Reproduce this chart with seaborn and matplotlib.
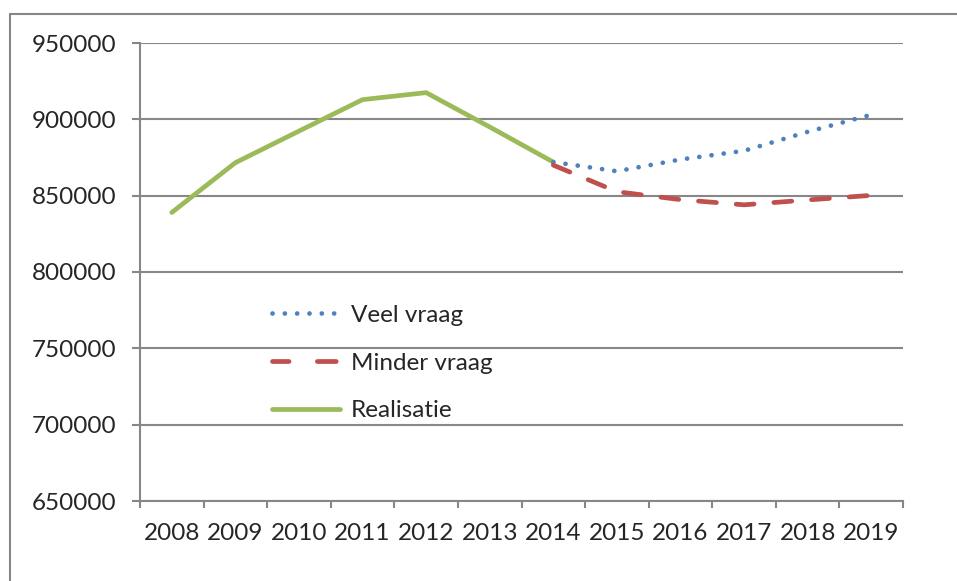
import matplotlib
matplotlib.use('Agg')
import matplotlib.pyplot as plt
from matplotlib.lines import Line2D
import pandas as pd
import seaborn as sns

# data
years = ['2008', '2009', '2010', '2011', '2012', '2013', '2014',
         '2015', '2016', '2017', '2018', '2019']
realisatie = [839000, 871600, 892300, 912900, 917500, 895000, 872000]
veel_vraag = [872000, 866000, 873700, 879400, 891800, 903000]
minder_vraag = [870000, 852600, 847400, 844000, 847200, 850200]
y_ticks = [650000, 700000, 750000, 800000, 850000, 900000, 950000]

sns.set_theme(style='white')
plt.rcParams['font.family'] = ['Lato', 'DejaVu Sans']

GRID = '#878787'
df_real = pd.DataFrame({'x': range(0, 7), 'y': realisatie})
df_veel = pd.DataFrame({'x': range(6, 12), 'y': veel_vraag})
df_mind = pd.DataFrame({'x': range(6, 12), 'y': minder_vraag})

fig = plt.figure(figsize=(9.57, 5.81), dpi=100)
ax = fig.add_axes([140/957, 1 - 501/581, (903 - 140)/957, (501 - 43)/581])

lw = 3.4
dots = (0, (0.01, 2.6))
dashes = (0, (3.8, 4.2))
sns.lineplot(data=df_real, x='x', y='y', ax=ax, color='#9BBB59', linewidth=lw,
             solid_capstyle='round', zorder=3)
sns.lineplot(data=df_veel, x='x', y='y', ax=ax, color='#4F81BD', linewidth=lw,
             linestyle=dots, dash_capstyle='round', zorder=4)
sns.lineplot(data=df_mind, x='x', y='y', ax=ax, color='#C0504D', linewidth=lw,
             linestyle=dashes, dash_capstyle='round', zorder=5)

ax.set_xlim(-0.5, 11.5)
ax.set_ylim(650000, 950000)
ax.set_yticks(y_ticks)
ax.set_yticklabels([str(v) for v in y_ticks])
ax.set_xticks(range(len(years)))
ax.set_xticklabels(years)
ax.set_xticks([i - 0.5 for i in range(len(years) + 1)], minor=True)
ax.set_xlabel('')
ax.set_ylabel('')

ax.grid(axis='y', color=GRID, linewidth=1.5)
ax.set_axisbelow(True)
for s in ['top', 'right']:
    ax.spines[s].set_visible(False)
for s in ['left', 'bottom']:
    ax.spines[s].set_color(GRID)
    ax.spines[s].set_linewidth(1.5)

ax.tick_params(axis='y', which='major', direction='out', length=6, width=1.5,
               color=GRID, pad=11, labelsize=17.5, left=True)
ax.tick_params(axis='x', which='major', length=0, pad=16, labelsize=17.5)
ax.tick_params(axis='x', which='minor', direction='out', length=5, width=1.5,
               color=GRID, bottom=True)

handles = [
    Line2D([], [], color='#4F81BD', linewidth=lw, linestyle=dots,
           dash_capstyle='round'),
    Line2D([], [], color='#C0504D', linewidth=lw, linestyle=(0.5, (4.0, 6.0)),
           dash_capstyle='round'),
    Line2D([], [], color='#9BBB59', linewidth=lw, solid_capstyle='round'),
]
ax.legend(handles, ['Veel vraag', 'Minder vraag', 'Realisatie'],
          loc='upper left', bbox_to_anchor=(0.173, 0.428), frameon=False,
          fontsize=17.5, handlelength=2.8, handletextpad=0.45, labelspacing=1.1,
          borderpad=0, borderaxespad=0)

# outer chart border (top and left visible in the reference)
fig.add_artist(Line2D([10/957, 1], [1 - 14/581, 1 - 14/581], color=GRID,
                      linewidth=1.5, transform=fig.transFigure))
fig.add_artist(Line2D([10/957, 10/957], [0, 1 - 14/581], color=GRID,
                      linewidth=1.5, transform=fig.transFigure))

plt.savefig('out.png', dpi=100)
plt.close()
